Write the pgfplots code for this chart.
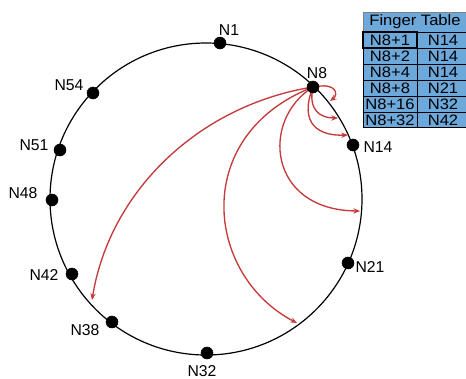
\documentclass[border=0pt]{standalone}
\usepackage{fontspec}
\setmainfont{Liberation Sans}
\usepackage{pgfplots}
\pgfplotsset{compat=1.18}
\usetikzlibrary{arrows.meta}
\definecolor{fingerred}{RGB}{196,58,58}
\definecolor{tableblue}{RGB}{108,168,218}

\begin{document}
\begin{tikzpicture}[
    lbl/.style={font=\fontsize{11.8}{13}\selectfont},
    cell/.style={font=\fontsize{11.3}{12}\selectfont, xscale=1.1},
    finger/.style={fingerred, line width=1pt, -{Stealth[length=5pt,width=4pt]}},
]
\begin{axis}[
    width=349.5pt, height=283.5pt, scale only axis,
    xmin=0, xmax=466, ymin=0, ymax=378, y dir=reverse,
    hide axis, clip=false,
]
% the ring
\draw[line width=0.9pt] (axis cs:206,199) circle[radius=156];

% finger pointers of N8
\draw[finger] (axis cs:313,87) .. controls (axis cs:338,82) and (axis cs:338,95) .. (axis cs:330,101);
\draw[finger] (axis cs:313,87) .. controls (axis cs:308,110) and (axis cs:320,118) .. (axis cs:338,118);
\draw[finger] (axis cs:313,87) .. controls (axis cs:298,125) and (axis cs:320,136) .. (axis cs:348,135);
\draw[finger] (axis cs:313,87) .. controls (axis cs:260,120) and (axis cs:268,210) .. (axis cs:360,211);
\draw[finger] (axis cs:313,87) .. controls (axis cs:190,135) and (axis cs:205,275) .. (axis cs:297,323);
\draw[finger] (axis cs:313,87) .. controls (axis cs:200,105) and (axis cs:110,190) .. (axis cs:92,300);

% nodes on the ring
\addplot[only marks, mark=*, mark size=4.5pt, black] coordinates {
    (220,43) (313,87) (353,145) (348,263) (207,353)
    (112,322) (72,274) (52,200) (60,150) (93,93)
};

\node[lbl] at (axis cs:229,30) {N1};
\node[lbl] at (axis cs:317,73) {N8};
\node[lbl] at (axis cs:378,147) {N14};
\node[lbl] at (axis cs:370,267) {N21};
\node[lbl] at (axis cs:202,371) {N32};
\node[lbl] at (axis cs:85,330) {N38};
\node[lbl] at (axis cs:44,275) {N42};
\node[lbl] at (axis cs:23,193) {N48};
\node[lbl] at (axis cs:34,145) {N51};
\node[lbl] at (axis cs:69,85) {N54};

% finger table
\filldraw[fill=tableblue, draw=gray, line width=0.6pt] (axis cs:363,12) rectangle (axis cs:470,32);
\node[cell] at (axis cs:415,22) {Finger Table};

\filldraw[fill=tableblue, draw=black, line width=0.6pt] (axis cs:363,32) rectangle (axis cs:417,48);
\filldraw[fill=tableblue, draw=black, line width=0.6pt] (axis cs:417,32) rectangle (axis cs:470,48);
\filldraw[fill=tableblue, draw=black, line width=0.6pt] (axis cs:363,48) rectangle (axis cs:417,64);
\filldraw[fill=tableblue, draw=black, line width=0.6pt] (axis cs:417,48) rectangle (axis cs:470,64);
\filldraw[fill=tableblue, draw=black, line width=0.6pt] (axis cs:363,64) rectangle (axis cs:417,80);
\filldraw[fill=tableblue, draw=black, line width=0.6pt] (axis cs:417,64) rectangle (axis cs:470,80);
\filldraw[fill=tableblue, draw=black, line width=0.6pt] (axis cs:363,80) rectangle (axis cs:417,96);
\filldraw[fill=tableblue, draw=black, line width=0.6pt] (axis cs:417,80) rectangle (axis cs:470,96);
\filldraw[fill=tableblue, draw=black, line width=0.6pt] (axis cs:363,96) rectangle (axis cs:417,112);
\filldraw[fill=tableblue, draw=black, line width=0.6pt] (axis cs:417,96) rectangle (axis cs:470,112);
\filldraw[fill=tableblue, draw=black, line width=0.6pt] (axis cs:363,112) rectangle (axis cs:417,127);
\filldraw[fill=tableblue, draw=black, line width=0.6pt] (axis cs:417,112) rectangle (axis cs:470,127);
\draw[black, line width=1.3pt] (axis cs:363,32) rectangle (axis cs:417,48);

\node[cell] at (axis cs:390,40) {N8+1};   \node[cell] at (axis cs:443,40) {N14};
\node[cell] at (axis cs:390,56) {N8+2};   \node[cell] at (axis cs:443,56) {N14};
\node[cell] at (axis cs:390,72) {N8+4};   \node[cell] at (axis cs:443,72) {N14};
\node[cell] at (axis cs:390,88) {N8+8};   \node[cell] at (axis cs:443,88) {N21};
\node[cell] at (axis cs:390,104) {N8+16}; \node[cell] at (axis cs:443,104) {N32};
\node[cell] at (axis cs:390,120) {N8+32}; \node[cell] at (axis cs:443,120) {N42};
\end{axis}
\pgfresetboundingbox
\path[use as bounding box] (current axis.south west) rectangle (current axis.north east);
\end{tikzpicture}
\end{document}
